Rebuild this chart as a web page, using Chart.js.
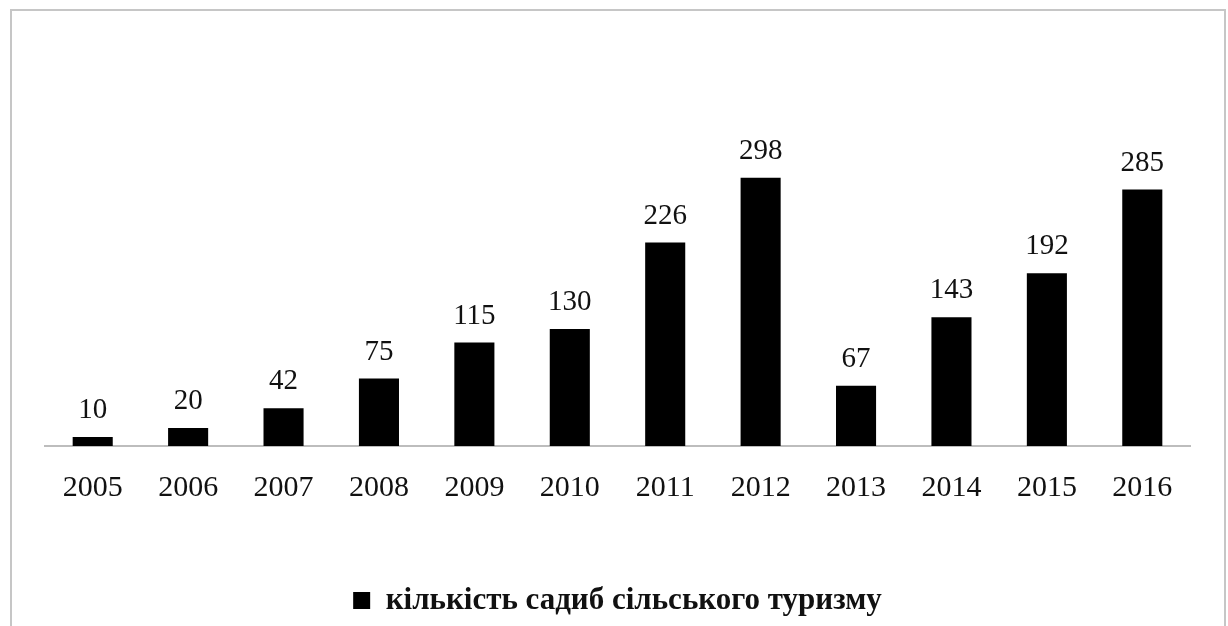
<!DOCTYPE html>
<html>
<head>
<meta charset="utf-8">
<script src="https://cdn.jsdelivr.net/npm/chart.js@4"></script>
<style>
  body { margin: 0; background: #fff; overflow: hidden; }
  .frame {
    position: absolute; left: 10px; top: 9px;
    width: 1212px; height: 640px;
    border: 2px solid #c6c6c6; border-bottom: none;
  }
  .frame canvas { display: block; }
</style>
</head>
<body>
<div class="frame"><canvas id="chart" width="1212" height="615"></canvas></div>
<script>
/* ---------- data ---------- */
const years = ["2005", "2006", "2007", "2008", "2009", "2010", "2011", "2012", "2013", "2014", "2015", "2016"];
const farmsteads = [10, 20, 42, 75, 115, 130, 226, 298, 67, 143, 192, 285];
const seriesName = "кількість садиб сільського туризму";

const serif = "'Liberation Serif', 'DejaVu Serif', serif";

/* value labels above each bar */
const barLabels = {
  id: "barLabels",
  afterDatasetsDraw(chart) {
    const ctx = chart.ctx;
    const meta = chart.getDatasetMeta(0);
    ctx.save();
    ctx.font = "29px " + serif;
    ctx.fillStyle = "#111";
    ctx.textAlign = "center";
    ctx.textBaseline = "bottom";
    meta.data.forEach((bar, i) => {
      ctx.fillText(farmsteads[i], bar.x, bar.y - 12);
    });
    ctx.restore();
  }
};

new Chart(document.getElementById("chart"), {
  type: "bar",
  data: {
    labels: years,
    datasets: [{
      label: seriesName,
      data: farmsteads,
      backgroundColor: "#000",
      categoryPercentage: 1,
      barPercentage: 0.42
    }]
  },
  options: {
    responsive: false,
    animation: false,
    layout: { padding: { top: 120, left: 33, right: 34, bottom: 0 } },
    plugins: {
      tooltip: { enabled: false },
      legend: {
        position: "bottom",
        labels: {
          color: "#111",
          font: { family: serif, size: 31, weight: "bold" },
          boxWidth: 17,
          boxHeight: 17,
          padding: 55
        }
      }
    },
    scales: {
      x: {
        grid: { display: false, drawTicks: false },
        border: { display: true, color: "#bdbdbd", width: 2 },
        ticks: {
          color: "#111",
          padding: 24,
          font: { family: serif, size: 30 }
        }
      },
      y: {
        display: false,
        min: 0,
        max: 350
      }
    }
  },
  plugins: [barLabels]
});
</script>
</body>
</html>
